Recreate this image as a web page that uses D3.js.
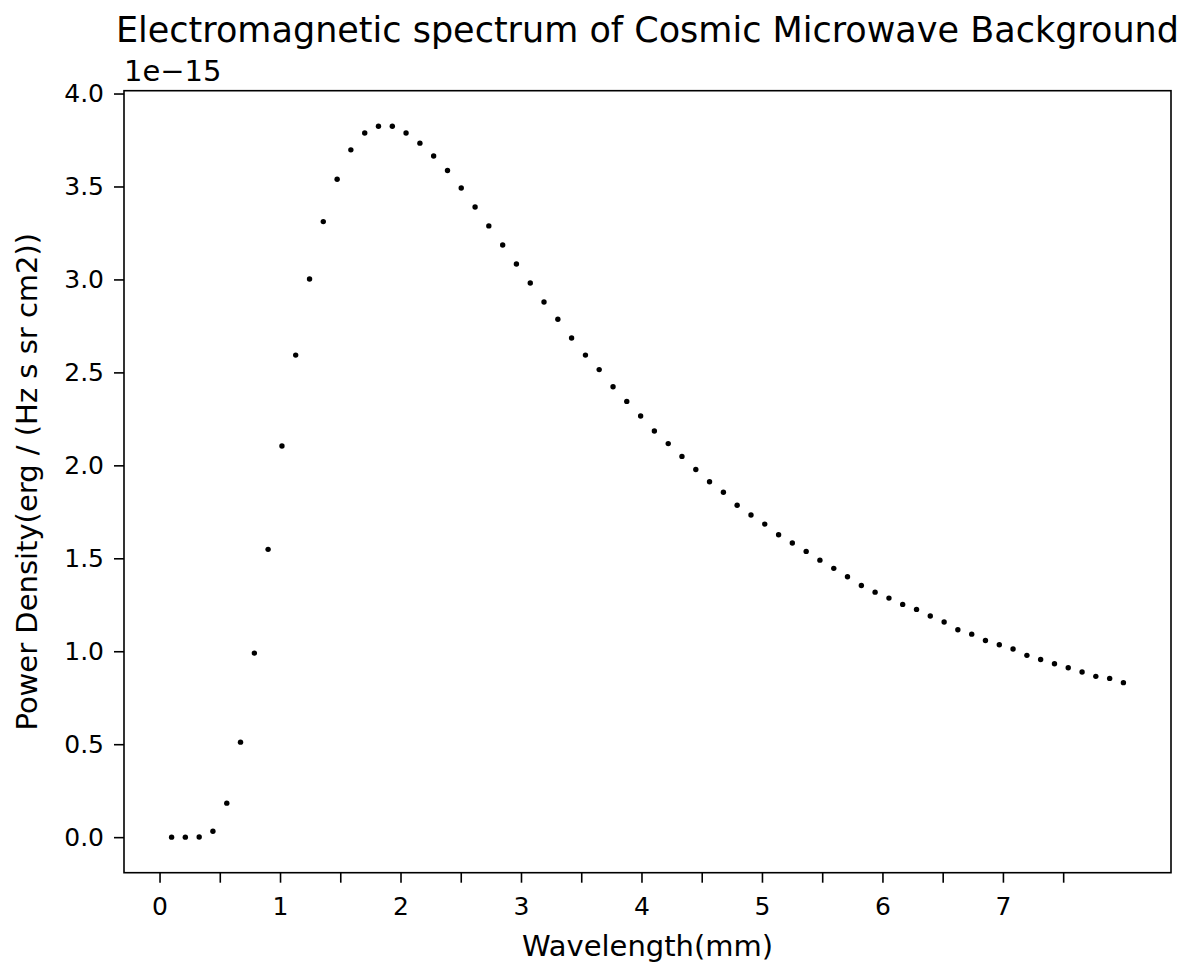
<!DOCTYPE html>
<html>
<head>
<meta charset="utf-8">
<script src="https://cdn.jsdelivr.net/npm/d3@7"></script>
<style>
  html, body { margin: 0; padding: 0; background: #fff; }
  svg { display: block; font-family: "DejaVu Sans", sans-serif; }
</style>
</head>
<body>
<svg id="chart" width="1189" height="962"></svg>
<script>
// ---- data ----
const titleText = "Electromagnetic spectrum of Cosmic Microwave Background";
const xLabelText = "Wavelength(mm)";
const yLabelText = "Power Density(erg / (Hz s sr cm2))";
const yOffsetText = "1e\u221215";

// wavelength in mm
const wavelength = [
  0.100, 0.214, 0.329, 0.443, 0.558, 0.672, 0.787, 0.901, 1.016, 1.130,
  1.245, 1.359, 1.474, 1.588, 1.703, 1.817, 1.932, 2.046, 2.161, 2.275,
  2.390, 2.504, 2.619, 2.733, 2.848, 2.962, 3.077, 3.191, 3.306, 3.420,
  3.535, 3.649, 3.764, 3.878, 3.993, 4.107, 4.222, 4.336, 4.451, 4.565,
  4.680, 4.794, 4.909, 5.023, 5.138, 5.252, 5.367, 5.481, 5.596, 5.710,
  5.825, 5.939, 6.054, 6.168, 6.283, 6.397, 6.512, 6.626, 6.741, 6.855,
  6.970, 7.084, 7.199, 7.313, 7.428, 7.542, 7.657, 7.771, 7.886, 8.000
];
// power density in units of 1e-15 erg / (Hz s sr cm2)
const power = [
  0.000, 0.000, 0.001, 0.032, 0.183, 0.511, 0.990, 1.548, 2.104, 2.593,
  3.002, 3.311, 3.539, 3.697, 3.788, 3.824, 3.824, 3.788, 3.733, 3.664,
  3.586, 3.492, 3.390, 3.288, 3.185, 3.083, 2.981, 2.879, 2.786, 2.685,
  2.593, 2.515, 2.423, 2.344, 2.265, 2.185, 2.117, 2.048, 1.978, 1.912,
  1.855, 1.785, 1.733, 1.684, 1.627, 1.582, 1.537, 1.490, 1.446, 1.401,
  1.354, 1.318, 1.286, 1.252, 1.225, 1.190, 1.157, 1.116, 1.092, 1.058,
  1.035, 1.012, 0.978, 0.956, 0.933, 0.911, 0.888, 0.865, 0.854, 0.831
];
const xTicks = [0, 0.5, 1, 1.5, 2, 2.5, 3, 3.5, 4, 4.5, 5, 5.5, 6, 6.5, 7, 7.5];
const xTickLabels = ["0", "", "1", "", "2", "", "3", "", "4", "", "5", "", "6", "", "7", ""];
const yTicks = [0, 0.5, 1, 1.5, 2, 2.5, 3, 3.5, 4];
const yTickLabels = ["0.0", "0.5", "1.0", "1.5", "2.0", "2.5", "3.0", "3.5", "4.0"];

// ---- layout ----
const W = 1189, H = 962;
const mLeft = 124, mRight = 1171, mTop = 90.7, mBottom = 872.7;
const tickFont = 25, labelFont = 29, titleFont = 35;

const svg = d3.select("#chart");
svg.append("rect").attr("width", W).attr("height", H).attr("fill", "#fff");

const xMin = d3.min(wavelength), xMax = d3.max(wavelength);
const xPad = (xMax - xMin) * 0.05;
const yMin = d3.min(power), yMax = d3.max(power);
const yPad = (yMax - yMin) * 0.05;

const x = d3.scaleLinear().domain([xMin - xPad, xMax + xPad]).range([mLeft, mRight]);
const y = d3.scaleLinear().domain([yMin - yPad, yMax + yPad]).range([mBottom, mTop]);

// points
const pts = wavelength.map((w, i) => ({ w, p: power[i] }));
svg.append("g").selectAll("circle").data(pts).join("circle")
  .attr("cx", d => x(d.w)).attr("cy", d => y(d.p))
  .attr("r", 2.7).attr("fill", "#000");

// axes
const xAxis = d3.axisBottom(x).tickValues(xTicks)
  .tickFormat((d, i) => xTickLabels[i]).tickSize(10).tickPadding(15);
const yAxis = d3.axisLeft(y).tickValues(yTicks)
  .tickFormat((d, i) => yTickLabels[i]).tickSize(10).tickPadding(10);

const gx = svg.append("g").attr("transform", `translate(0,${mBottom})`).call(xAxis);
const gy = svg.append("g").attr("transform", `translate(${mLeft},0)`).call(yAxis);
[gx, gy].forEach(g => {
  g.select(".domain").remove();
  g.selectAll(".tick line").attr("stroke", "#000").attr("stroke-width", 1.6);
  g.selectAll(".tick text").attr("fill", "#000")
    .style("font-family", "DejaVu Sans").style("font-size", tickFont + "px");
});

// frame
svg.append("rect").attr("x", mLeft).attr("y", mTop)
  .attr("width", mRight - mLeft).attr("height", mBottom - mTop)
  .attr("fill", "none").attr("stroke", "#000").attr("stroke-width", 1.6);

// offset text
svg.append("text").attr("x", mLeft).attr("y", 81)
  .style("font-size", labelFont + "px").attr("fill", "#000").text(yOffsetText);

// title
svg.append("text").attr("x", (mLeft + mRight) / 2).attr("y", 42)
  .attr("text-anchor", "middle").style("font-size", titleFont + "px")
  .attr("fill", "#000").text(titleText);

// axis labels
svg.append("text").attr("x", (mLeft + mRight) / 2).attr("y", 956)
  .attr("text-anchor", "middle").style("font-size", labelFont + "px")
  .attr("fill", "#000").text(xLabelText);

svg.append("text")
  .attr("transform", `translate(37,${(mTop + mBottom) / 2}) rotate(-90)`)
  .attr("text-anchor", "middle").style("font-size", labelFont + "px")
  .attr("fill", "#000").text(yLabelText);
</script>
</body>
</html>
